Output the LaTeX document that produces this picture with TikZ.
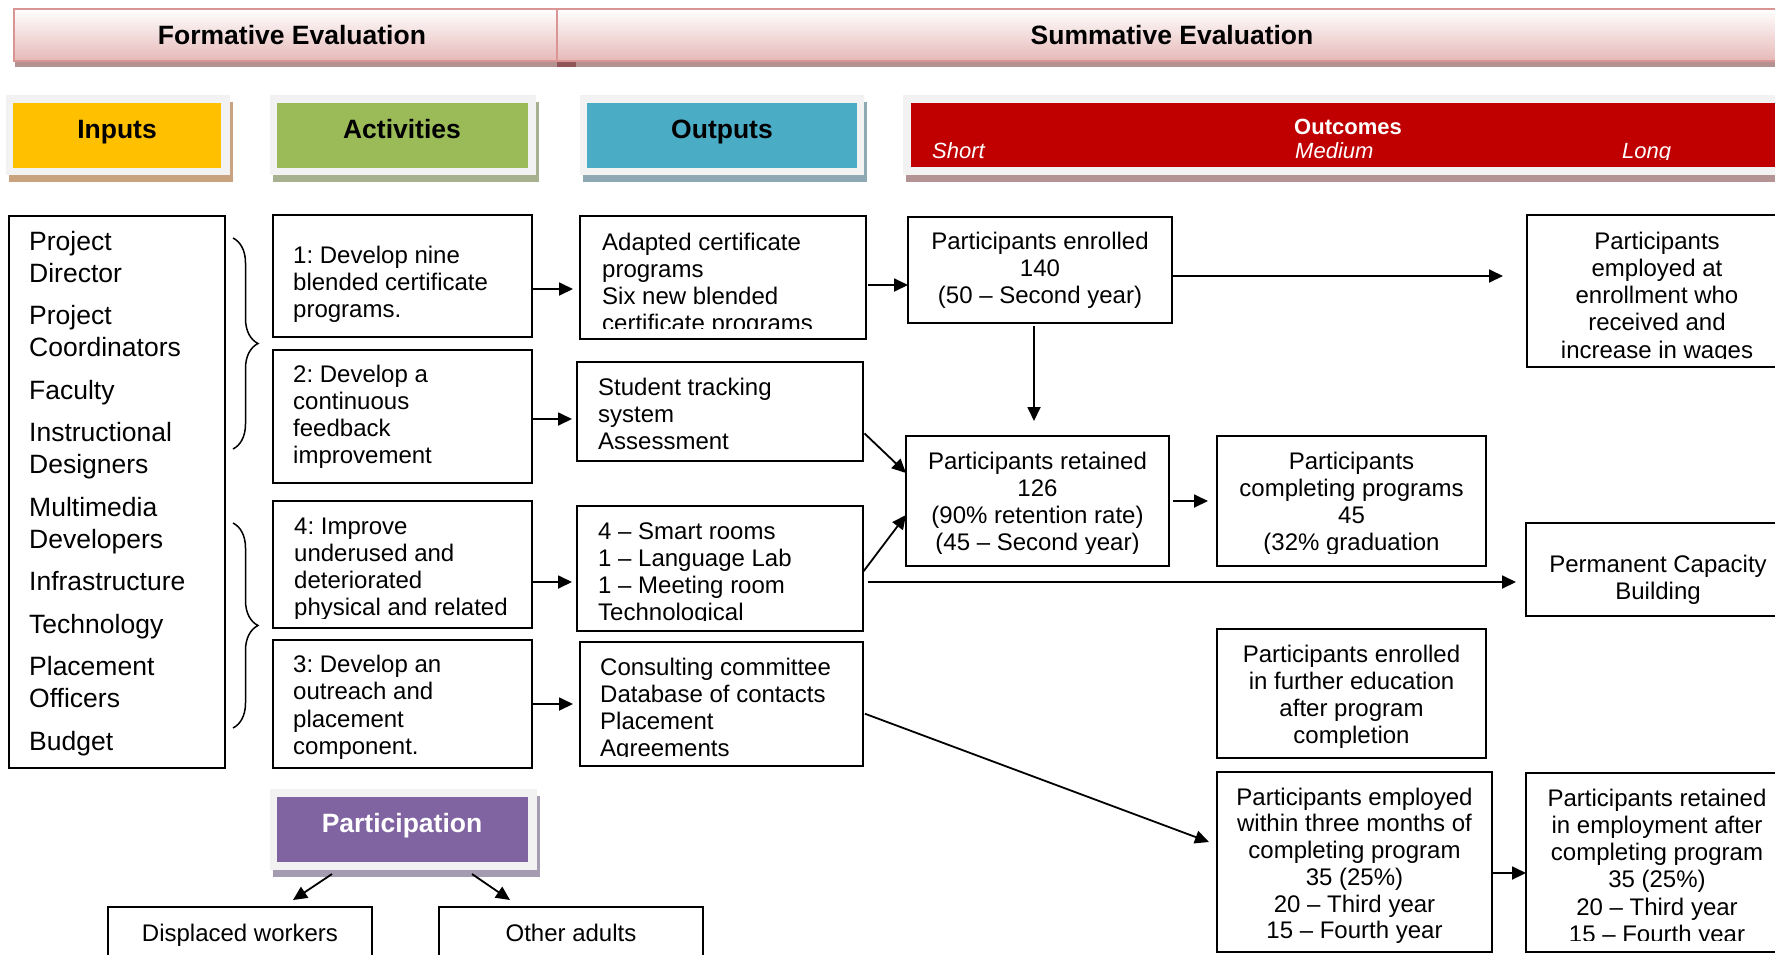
\documentclass[tikz,border=0pt]{standalone}
\usepackage{fontspec}
\setmainfont{Liberation Sans}
\usetikzlibrary{arrows.meta,decorations.pathreplacing}
\frenchspacing

\definecolor{inpY}{HTML}{FFC000}
\definecolor{actG}{HTML}{9BBB59}
\definecolor{outB}{HTML}{4BACC6}
\definecolor{ocR}{HTML}{C00000}
\definecolor{parP}{HTML}{8064A2}
\definecolor{frameG}{HTML}{F2F2F2}
\definecolor{shY}{HTML}{C9A27E}
\definecolor{shG}{HTML}{A7B18F}
\definecolor{shB}{HTML}{8EA9B4}
\definecolor{shR}{HTML}{B39393}
\definecolor{shP}{HTML}{A59CB2}
\definecolor{barPink}{HTML}{E6B9B8}
\definecolor{barLine}{HTML}{D99594}
\definecolor{barShadow}{HTML}{B59292}
\definecolor{barDark}{HTML}{8E5656}

\newcommand\ftxt{\fontsize{24}{27.2}\selectfont\frenchspacing}
\newcommand\ftxtb{\fontsize{24}{26.7}\selectfont\frenchspacing}
\newcommand\finp{\fontsize{26.5}{32}\selectfont}
\newcommand\fhdr{\fontsize{26.5}{30}\selectfont\bfseries}
\newcommand\foc{\fontsize{22}{26}\selectfont}
\newcommand\tst{\rule{0pt}{0.8em}}

\tikzset{
  bx/.style={draw=black, line width=2pt, anchor=north west, inner sep=0pt, outer sep=0pt},
  ltx/.style={font=\ftxt, align=left, anchor=north west, inner sep=0pt},
  ctx/.style={font=\ftxt, align=center, anchor=north, inner sep=0pt},
  arr/.style={-{Triangle[length=14pt,width=13pt]}, line width=1.8pt},
  hframe/.style={fill=frameG, anchor=north west, inner sep=0pt, outer sep=0pt},
  hinner/.style={anchor=north west, inner sep=0pt, outer sep=0pt},
  htx/.style={font=\fhdr, anchor=base, inner sep=0pt},
  brc/.style={decorate, decoration={brace, amplitude=25pt}, line width=1.5pt},
  barsec/.style={draw=barLine, line width=2pt, top color=white, bottom color=barPink,
    anchor=north west, inner sep=0pt, outer sep=0pt},
}

% box: name, x1, y1, x2, y2
\newcommand\mkbox[5]{\node[bx, minimum width=#4pt-#2pt, minimum height=#5pt-#3pt] (#1) at (#2,#3) {};}
% clipped text: box name, bottom inset, style, position, text
\newcommand\cliptxt[5]{%
  \begin{scope}
    \clip ([yshift=#2pt]#1.south west) rectangle (#1.north east);
    \node[#3] (#1t) at (#4) {\tst #5};
  \end{scope}}

\begin{document}
\begin{tikzpicture}[x=1pt,y=-1pt]
\useasboundingbox (0,0) rectangle (1775,954);
\clip (0,0) rectangle (1775,954);

% ---------- evaluation bar ----------
\fill[barShadow] (15,61) rectangle (1790,67);
\fill[barDark] (557,61) rectangle (576,67);
\node[barsec, minimum width=543pt, minimum height=52pt] (FE) at (14,9) {};
\node[barsec, minimum width=1233pt, minimum height=52pt] (SE) at (557,9) {};
\node[htx] (FEt) at (292,44.5) {Formative Evaluation};
\node[htx] (SEt) at (1172,44.5) {Summative Evaluation};

% ---------- column headers ----------
\fill[shY] (9,102) rectangle (233,182);
\node[hframe, minimum width=224pt, minimum height=80pt] (IF) at (6,95) {};
\node[hinner, fill=inpY, minimum width=208pt, minimum height=65pt] (IH) at (13,103) {};
\node[htx] (IHt) at (117,138.5) {Inputs};

\fill[shG] (273,102) rectangle (539,182);
\node[hframe, minimum width=266pt, minimum height=80pt] (AF) at (270,95) {};
\node[hinner, fill=actG, minimum width=251pt, minimum height=65pt] (AH) at (277,103) {};
\node[htx] (AHt) at (402,138.5) {Activities};

\fill[shB] (583,102) rectangle (867,182);
\node[hframe, minimum width=284pt, minimum height=80pt] (OF) at (580,95) {};
\node[hinner, fill=outB, minimum width=270pt, minimum height=65pt] (OH) at (587,103) {};
\node[htx] (OHt) at (722,138.5) {Outputs};

\fill[shR] (906,102) rectangle (1790,182);
\node[hframe, minimum width=887pt, minimum height=80pt] (CF) at (903,95) {};
\node[hinner, fill=ocR, minimum width=879pt, minimum height=64pt] (CH) at (911,103) {};
\node[font=\foc\bfseries, text=white, anchor=base, inner sep=0pt] (CHt) at (1348,134) {Outcomes};
\begin{scope}
  \clip (911,103) rectangle (1790,159.5);
  \node[font=\foc\itshape, text=white, anchor=base west, inner sep=0pt] (CHs) at (932,158) {Short};
  \node[font=\foc\itshape, text=white, anchor=base west, inner sep=0pt] (CHm) at (1295,158) {Medium};
  \node[font=\foc\itshape, text=white, anchor=base west, inner sep=0pt] (CHl) at (1622,158) {Long};
\end{scope}

% ---------- inputs ----------
\mkbox{INP}{9}{216}{225}{768}
\node[font=\finp, align=left, anchor=north west, inner sep=0pt] (INPt) at (29,228.8)
  {\tst Project\\Director\\[10.5pt]Project\\Coordinators\\[10.5pt]Faculty\\[10.5pt]Instructional\\Designers\\[10.5pt]Multimedia\\Developers\\[10.5pt]Infrastructure\\[10.5pt]Technology\\[10.5pt]Placement\\Officers\\[10.5pt]Budget};
\draw[brc] (233,238) -- (233,449);
\draw[brc] (233,523) -- (233,728);

% ---------- activities ----------
\mkbox{A1}{273}{215}{532}{337}
\node[ltx] (A1t) at (293,243.8) {\tst 1: Develop nine\\blended certificate\\programs.};
\mkbox{A2}{273}{350}{532}{483}
\node[ltx] (A2t) at (293,362.8) {\tst 2: Develop a\\continuous\\feedback\\improvement};
\mkbox{A4}{273}{501}{532}{628}
\cliptxt{A4}{10}{ltx}{294,514.8}{4: Improve\\underused and\\deteriorated\\physical and related}
\mkbox{A3}{273}{640}{532}{768}
\node[ltx] (A3t) at (293,653.3) {\tst 3: Develop an\\outreach and\\placement\\component.};

% ---------- outputs ----------
\mkbox{O1}{580}{216}{866}{339}
\cliptxt{O1}{11}{ltx}{602,230.8}{Adapted certificate\\programs\\Six new blended\\certificate programs}
\mkbox{O2}{577}{362}{863}{461}
\node[ltx] (O2t) at (598,375.8) {\tst Student tracking\\system\\Assessment};
\mkbox{O3}{577}{506}{863}{631}
\cliptxt{O3}{11}{ltx}{598,519.8}{4 – Smart rooms\\1 – Language Lab\\1 – Meeting room\\Technological}
\mkbox{O4}{580}{642}{863}{766}
\cliptxt{O4}{10}{ltx}{600,655.8}{Consulting committee\\Database of contacts\\Placement\\Agreements}

% ---------- outcomes ----------
\mkbox{S1}{908}{217}{1172}{323}
\node[ctx] (S1t) at (1040,229.8) {\tst Participants enrolled\\140\\(50 – Second year)};
\mkbox{S2}{906}{436}{1169}{566}
\cliptxt{S2}{13}{ctx}{1037.5,449.8}{Participants retained\\126\\(90\% retention rate)\\(45 – Second year)}
\mkbox{M1}{1217}{436}{1486}{566}
\cliptxt{M1}{13}{ctx}{1351.5,449.8}{Participants\\completing programs\\45\\(32\% graduation}
\mkbox{M2}{1217}{629}{1486}{758}
\node[ctx] (M2t) at (1351.5,642.8) {\tst Participants enrolled\\in further education\\after program\\completion};
\mkbox{M3}{1217}{772}{1492}{952}
\node[ctx, font=\ftxtb] (M3t) at (1354.5,785.8) {\tst Participants employed\\within three months of\\completing program\\35 (25\%)\\20 – Third year\\15 – Fourth year};
\mkbox{L1}{1527}{215}{1790}{367}
\cliptxt{L1}{9}{ctx}{1657,229.8}{Participants\\employed at\\enrollment who\\received and\\increase in wages}
\mkbox{L2}{1526}{523}{1790}{616}
\node[ctx] (L2t) at (1658,552.8) {\tst Permanent Capacity\\Building};
\mkbox{L3}{1526}{773}{1790}{952}
\cliptxt{L3}{12}{ctx}{1657,786.8}{Participants retained\\in employment after\\completing program\\35 (25\%)\\20 – Third year\\15 – Fourth year}

% ---------- participation ----------
\fill[shP] (273,796) rectangle (540,877);
\node[hframe, minimum width=267pt, minimum height=81pt] (PF) at (270,789) {};
\node[hinner, fill=parP, minimum width=251pt, minimum height=65pt] (PH) at (277,797) {};
\node[htx, text=white] (PHt) at (402,832) {Participation};
\mkbox{DW}{108}{907}{372}{975}
\node[ctx] (DWt) at (240,921.8) {\tst Displaced workers};
\mkbox{OA}{439}{907}{703}{975}
\node[ctx] (OAt) at (571,921.8) {\tst Other adults};

% ---------- connectors ----------
\coordinate (c1) at ([yshift=-13pt]A1.east);
\draw[arr, shorten >=7pt] (c1) -- (c1 -| O1.west);
\coordinate (c2) at ([yshift=-2.5pt]A2.east);
\draw[arr, shorten >=5pt] (c2) -- (c2 -| O2.west);
\coordinate (c3) at ([yshift=-17.5pt]A4.east);
\draw[arr, shorten >=5pt] (c3) -- (c3 -| O3.west);
\coordinate (c4) at (A3.east);
\draw[arr, shorten >=7pt] (c4) -- (c4 -| O4.west);
\coordinate (c5) at ([yshift=-7.5pt]O1.east);
\draw[arr, shorten <=2pt] (c5) -- (c5 -| S1.west);
\coordinate (c6) at ([yshift=-6pt]S1.east);
\draw[arr, shorten >=24pt] (c6) -- (c6 -| L1.west);
\coordinate (c7) at ([xshift=-6pt]S1.south);
\draw[arr, shorten <=3pt, shorten >=15pt] (c7) -- (c7 |- S2.north);
\draw[arr, shorten <=2pt] ([yshift=-20.5pt]O2.east) -- ([yshift=28pt]S2.west);
\draw[arr, shorten <=1pt] ([yshift=-3.5pt]O3.east) -- ([yshift=-14pt]S2.west);
\coordinate (c8) at (S2.east);
\draw[arr, shorten <=4pt, shorten >=9pt] (c8) -- (c8 -| M1.west);
\coordinate (c9) at ([yshift=-13.5pt]O3.east);
\draw[arr, shorten <=5pt, shorten >=10pt] (c9) -- (c9 -| L2.west);
\draw[arr, shorten <=2pt] ([yshift=-9pt]O4.east) -- ([xshift=-8pt,yshift=20pt]M3.west);
\coordinate (c10) at ([yshift=-11pt]M3.east);
\draw[arr] (c10) -- (c10 -| L3.west);
\draw[arr] ([xshift=-71.5pt,yshift=-4pt]PF.south) -- ([xshift=53pt,yshift=7pt]DW.north);
\draw[arr] ([xshift=68.5pt,yshift=-4pt]PF.south) -- ([xshift=-61pt,yshift=7pt]OA.north);
\end{tikzpicture}
\end{document}
